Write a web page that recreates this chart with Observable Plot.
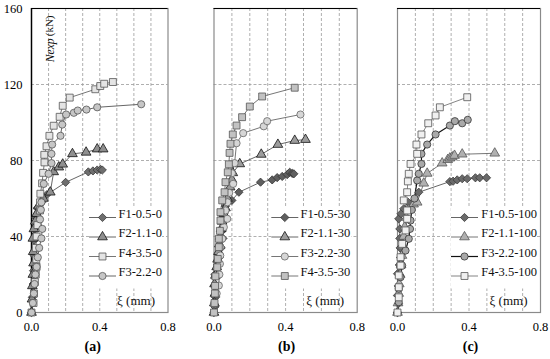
<!DOCTYPE html>
<html><head><meta charset="utf-8">
<script src="https://cdn.jsdelivr.net/npm/d3@7"></script>
<script src="https://cdn.jsdelivr.net/npm/@observablehq/plot@0.6"></script>
<style>
body{margin:0;background:#fff;}
#chart{position:relative;width:550px;height:359px;font-family:"Liberation Serif","Times New Roman",serif;}
#chart svg{position:absolute;top:0;overflow:visible;font-family:"Liberation Serif","Times New Roman",serif !important;}
#chart svg text{font-family:"Liberation Serif","Times New Roman",serif !important;}
</style></head><body><div id="chart"></div>
<script>
const xTicks = [0, 0.4, 0.8];
const yTicks = [0, 40, 80, 120, 160];
const xGrid = [0.1, 0.2, 0.3, 0.4, 0.5, 0.6, 0.7];
const yGrid = [40, 80, 120];
const xDomain = [0, 0.8];
const yDomain = [0, 160];
const yLabelItalic = "Nexp";
const yLabelUnit = "(kN)";
const xLabel = "ξ (mm)";
const panelLabels = ["(a)", "(b)", "(c)"];

// ---- panel (a) ----
const a_F1 = [[0,0],[0.005,8],[0.01,15],[0.012,22],[0.015,30],[0.015,38],[0.02,44],[0.025,50],[0.035,55],[0.06,58],[0.09,62],[0.2,68.5],[0.333,74],[0.36,74.5],[0.385,75],[0.405,75.3],[0.415,75]];
const a_F2 = [[0,0],[0.003,7],[0.005,14],[0.008,20],[0.012,26],[0.01,32],[0.008,39],[0.014,44],[0.022,48],[0.03,52],[0.04,56],[0.07,60],[0.11,63.3],[0.13,74],[0.16,76.5],[0.183,78],[0.24,83.5],[0.32,84.3],[0.385,86],[0.42,86]];
const a_F4 = [[0,0],[0.012,5],[0.015,10],[0.02,16],[0.025,20],[0.03,24],[0.028,28],[0.025,34],[0.03,40],[0.035,46],[0.05,53.7],[0.05,58],[0.052,62.5],[0.062,68],[0.068,73.5],[0.076,79],[0.075,83],[0.088,87.5],[0.105,93],[0.13,98.3],[0.165,103],[0.183,108.8],[0.224,113.1],[0.374,117.5],[0.403,119.2],[0.426,120.4],[0.477,121.3]];
const a_F3 = [[0,0],[0.008,5],[0.014,10],[0.018,15],[0.023,20],[0.03,24],[0.037,29],[0.045,34],[0.058,39],[0.063,44],[0.05,49],[0.055,54],[0.058,58],[0.072,67.7],[0.1,73],[0.117,78.6],[0.117,83.5],[0.121,88.4],[0.17,93],[0.18,98.9],[0.203,104.2],[0.248,105.1],[0.271,106.3],[0.322,106.8],[0.385,108],[0.643,109.6]];

// ---- panel (b) ----
const b_F1 = [[0,0],[0.005,3],[0.008,8],[0.003,14],[0.005,20],[0.02,25],[0.03,29],[0.04,34],[0.05,39],[0.046,43],[0.05,48],[0.055,52],[0.064,56],[0.1,59],[0.139,63.3],[0.26,68.6],[0.325,69.8],[0.353,71],[0.381,71.6],[0.409,72.6],[0.423,73.8],[0.437,73.2],[0.446,73]];
const b_F2 = [[0,0],[0.002,5],[0.005,10],[0.003,15],[0.008,19.5],[0.015,24],[0.02,28],[0.025,32],[0.03,36],[0.035,40],[0.04,44],[0.045,48],[0.055,52],[0.064,55],[0.075,60],[0.09,66],[0.1,70],[0.105,73.5],[0.144,78.2],[0.264,83.2],[0.357,88.4],[0.451,90.5],[0.511,91]];
const b_F3 = [[0,0],[0,4.6],[0.015,10],[0.027,14.2],[0.03,20],[0.033,25.6],[0.035,30],[0.036,34.4],[0.046,38.8],[0.055,44.9],[0.074,49.3],[0.064,53.7],[0.075,58],[0.085,63],[0.107,67.7],[0.1,73.3],[0.115,78.6],[0.126,89.1],[0.163,94.4],[0.278,98],[0.297,100.7],[0.483,104.2]];
const b_F4 = [[0,0],[0.003,5],[0.005,10],[0.006,14],[0.008,19],[0.018,23.8],[0.021,28.2],[0.027,34.4],[0.027,38.8],[0.033,43],[0.036,48.4],[0.036,52.8],[0.046,59],[0.059,63.3],[0.064,68.6],[0.077,73.8],[0.083,78],[0.087,84],[0.092,88.8],[0.105,93.7],[0.126,98.4],[0.157,102.8],[0.2,108.4],[0.269,113.7],[0.451,118.3]];

// ---- panel (c) ----
const c_F1 = [[0,0],[0.005,4.6],[0,9],[0.005,14],[0,20.4],[0.01,25],[0.017,29],[0.015,34],[0.013,39],[0.013,44],[0.007,49.3],[0.02,52],[0.035,54.6],[0.06,58],[0.119,63.3],[0.293,68.9],[0.311,69.1],[0.334,69.8],[0.362,70.4],[0.39,70.4],[0.436,70.9],[0.46,70.9],[0.498,70.9]];
const c_F2 = [[0,0],[0.003,5],[0.007,10],[0.01,15],[0.015,20],[0.02,25],[0.025,30],[0.03,35],[0.035,40],[0.04,45],[0.05,50],[0.06,54],[0.09,57],[0.11,58],[0.147,68],[0.166,73.2],[0.25,78.6],[0.281,80.4],[0.293,81.2],[0.306,81.8],[0.319,82.6],[0.362,83.3],[0.544,83.8]];
const c_F3 = [[0,0],[0.007,5.4],[0.007,12.5],[0.017,18.6],[0.026,24.7],[0.045,32.6],[0.063,38.8],[0.07,44],[0.073,48.4],[0.08,54],[0.095,60],[0.11,69.5],[0.119,73],[0.134,78.2],[0.134,83.5],[0.166,88.4],[0.213,93.7],[0.293,98.4],[0.321,100.7],[0.362,99.6],[0.393,101.4]];
const c_F4 = [[0,0],[0.007,8],[0.007,13.3],[0.007,19.5],[0.017,24.7],[0.017,29.1],[0.026,36.1],[0.045,43.2],[0.054,49.3],[0.054,53.7],[0.035,59],[0.054,63.3],[0.058,69],[0.063,73],[0.073,78.2],[0.11,83.5],[0.106,88.4],[0.134,93.7],[0.172,99.6],[0.213,103.7],[0.237,108],[0.39,113.3]];

const FONT = "Liberation Serif";
const lineSym = (w) => ({draw(ctx){ ctx.moveTo(-w/2,0); ctx.lineTo(w/2,0); }});
const rectSym = (w,h) => ({draw(ctx){ ctx.rect(-w/2,-h/2,w,h); }});

const mk = {
  diamond: {symbol:"diamond2", r:3.7},
  triangle: {symbol:"triangle", r:3.6},
  square: {symbol:"square", r:3.9},
  circle: {symbol:"circle", r:3.6}
};

const panels = [
  {label: panelLabels[0], left:0, width:172, ml:31, mr:4.5, yAxis:true, labelDx:-7,
   legend:{markDx:-65.5, textDx:-49.5, box:{dx:-42, dy:-65, w:72, h:82}},
   series:[
    {name:"F1-0.5-0", data:a_F1, ...mk.diamond, fill:"#6e6e6e", stroke:"#3a3a3a", line:"#555", lw:0.9},
    {name:"F2-1.1-0", data:a_F2, ...mk.triangle, fill:"#8f8f8f", stroke:"#111", line:"#555", lw:0.9},
    {name:"F4-3.5-0", data:a_F4, ...mk.square, fill:"#e4e4e4", stroke:"#555", line:"#666", lw:0.9},
    {name:"F3-2.2-0", data:a_F3, ...mk.circle, fill:"#c6c6c6", stroke:"#555", line:"#555", lw:0.9}
   ]},
  {label: panelLabels[1], left:180, width:180, ml:33.5, mr:3.3, yAxis:false, labelDx:1,
   legend:{markDx:-72.4, textDx:-56.7, box:{dx:-46, dy:-65, w:80, h:82}},
   series:[
    {name:"F1-0.5-30", data:b_F1, ...mk.diamond, fill:"#5f5f5f", stroke:"#333", line:"#555", lw:0.9},
    {name:"F2-1.1-30", data:b_F2, ...mk.triangle, fill:"#9c9c9c", stroke:"#111", line:"#555", lw:0.9},
    {name:"F3-2.2-30", data:b_F3, ...mk.circle, fill:"#d6d6d6", stroke:"#666", line:"#666", lw:0.9},
    {name:"F4-3.5-30", data:b_F4, ...mk.square, fill:"#c2c2c2", stroke:"#555", line:"#666", lw:0.9}
   ]},
  {label: panelLabels[2], left:365, width:185, ml:32, mr:10, yAxis:false, labelDx:1.5,
   legend:{markDx:-76, textDx:-59.3, box:{dx:-48, dy:-65, w:84, h:82}},
   series:[
    {name:"F1-0.5-100", data:c_F1, ...mk.diamond, fill:"#6a6a6a", stroke:"#3a3a3a", line:"#555", lw:0.9},
    {name:"F2-1.1-100", data:c_F2, ...mk.triangle, fill:"#b0b0b0", stroke:"#555", line:"#666", lw:0.9},
    {name:"F3-2.2-100", data:c_F3, ...mk.circle, fill:"#a9a9a9", stroke:"#333", line:"#111", lw:1.2},
    {name:"F4-3.5-100", data:c_F4, ...mk.square, fill:"#f0f0f0", stroke:"#555", line:"#777", lw:0.9}
   ]}
];

const rowDy = [-95, -75.5, -56, -36.5];
const root = document.getElementById("chart");

panels.forEach(p => {
  const marks = [
    Plot.gridX(xGrid, {stroke:"#9a9a9a", strokeOpacity:1, strokeWidth:0.8, strokeDasharray:"3,2"}),
    Plot.gridY(yGrid, {stroke:"#9a9a9a", strokeOpacity:1, strokeWidth:0.8, strokeDasharray:"3,2"}),
    Plot.dot([0], {frameAnchor:"bottom-right", dx:p.legend.box.dx, dy:p.legend.box.dy, symbol:rectSym(p.legend.box.w, p.legend.box.h), fill:"white", stroke:"none", r:5}),
    Plot.frame({stroke:"#8a8a8a", strokeWidth:1.2}),
    Plot.ruleY([yDomain[1]], {stroke:"#000", strokeWidth:1.2})
  ];
  if (p.yAxis) marks.push(Plot.ruleX([xDomain[0]], {stroke:"#000", strokeWidth:1.4}));
  p.series.forEach(s => {
    marks.push(Plot.line(s.data, {x:d=>d[0], y:d=>d[1], stroke:s.line, strokeWidth:s.lw}));
  });
  p.series.forEach(s => {
    marks.push(Plot.dot(s.data, {x:d=>d[0], y:d=>d[1], symbol:s.symbol, r:s.r, fill:s.fill, stroke:s.stroke, strokeWidth:0.8}));
  });
  p.series.forEach((s, i) => {
    marks.push(Plot.dot([0], {frameAnchor:"bottom-right", dx:p.legend.markDx, dy:rowDy[i], symbol:lineSym(27), stroke:s.line, strokeWidth:s.lw, fill:"none", r:5}));
    marks.push(Plot.dot([0], {frameAnchor:"bottom-right", dx:p.legend.markDx, dy:rowDy[i], symbol:s.symbol, r:s.r, fill:s.fill, stroke:s.stroke, strokeWidth:0.8}));
    marks.push(Plot.text([s.name], {frameAnchor:"bottom-right", dx:p.legend.textDx, dy:rowDy[i], text:d=>d, textAnchor:"start", fontSize:12.5, fontFamily:FONT, fill:"#111"}));
  });
  marks.push(Plot.text([xLabel], {frameAnchor:"bottom-right", dx:-13, dy:-8, text:d=>d, textAnchor:"end", fontSize:13, fontFamily:FONT, fill:"#111"}));
  marks.push(Plot.axisX(xTicks, {tickFormat:d3.format(".1f"), tickSize:0, tickPadding:10, fontSize:12.5, fontFamily:FONT}));
  marks.push(Plot.text([p.label], {frameAnchor:"bottom", dx:p.labelDx, dy:38, text:d=>d, fontSize:14, fontWeight:"bold", fontFamily:FONT, fill:"#000"}));
  if (p.yAxis) {
    marks.push(Plot.axisY(yTicks, {tickSize:0, tickPadding:9, fontSize:12.5, fontFamily:FONT}));
    marks.push(Plot.text([yLabelUnit], {frameAnchor:"top-left", dx:14, dy:7, rotate:-90, textAnchor:"end", text:d=>d, fontSize:11, fontFamily:FONT, fill:"#111"}));
    marks.push(Plot.text([yLabelItalic], {frameAnchor:"top-left", dx:14, dy:30, rotate:-90, textAnchor:"end", text:d=>d, fontSize:11.5, fontStyle:"italic", fontFamily:FONT, fill:"#111"}));
  }
  const svg = Plot.plot({
    width:p.width, height:359,
    marginLeft:p.ml, marginRight:p.mr, marginTop:8, marginBottom:47,
    x:{domain:xDomain, axis:null},
    y:{domain:yDomain, axis:null},
    style:"font-family: 'Liberation Serif', serif; font-size: 12.5px; background: transparent; overflow: visible;",
    marks
  });
  svg.style.left = p.left + "px";
  root.appendChild(svg);
});
</script></body></html>
